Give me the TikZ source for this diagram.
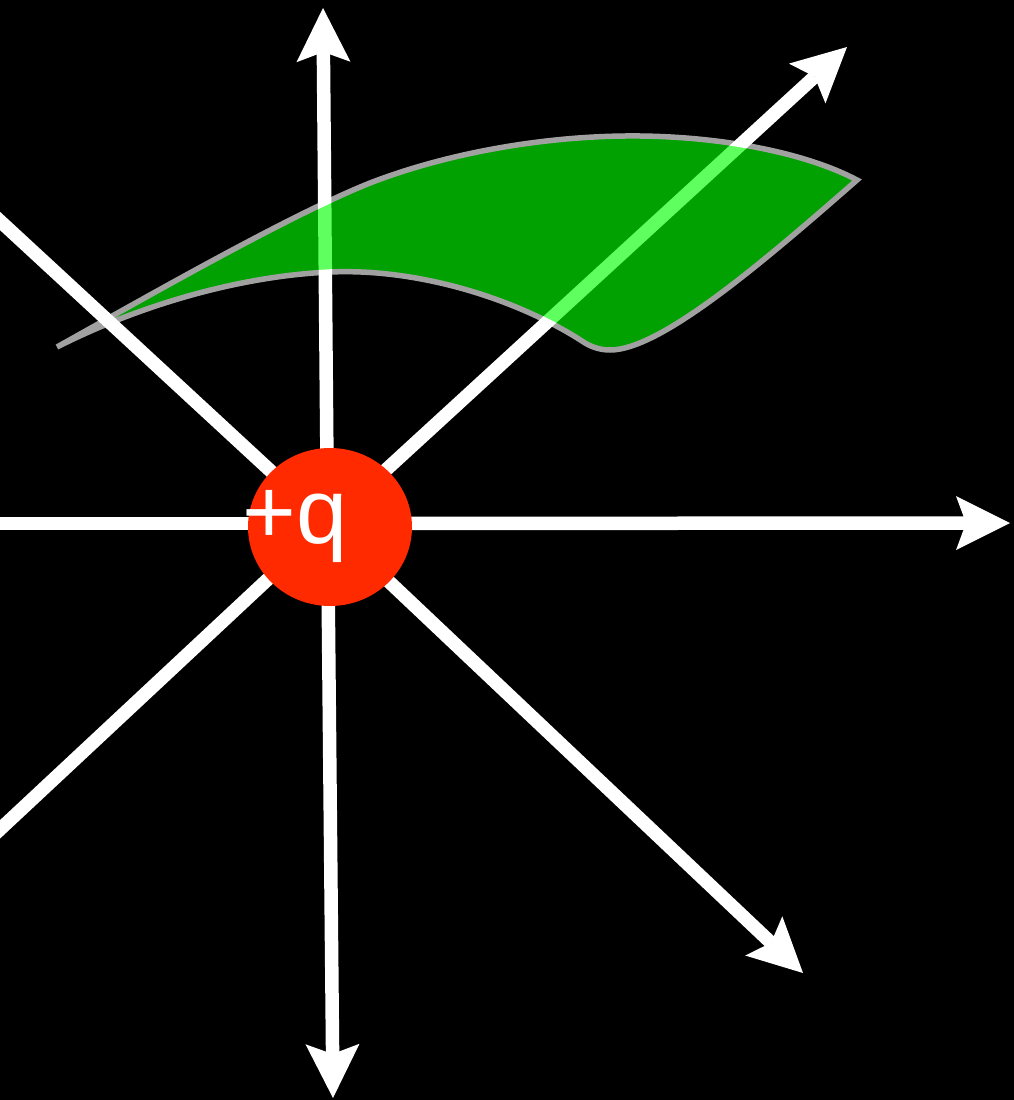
\documentclass[tikz,border=0pt]{standalone}
\usepackage{fontspec}
\setmainfont{Liberation Sans}
\usetikzlibrary{arrows.meta,shapes.geometric}
\definecolor{qred}{RGB}{255,42,0}
\definecolor{sheet}{RGB}{0,255,0}
\begin{document}
\begin{tikzpicture}[x=1pt,y=-1pt,
  fieldline/.style={draw=white, line width=13.5pt},
  fieldarrow/.style={fieldline, -{Stealth[length=54pt,width=54pt,inset=10pt,line width=0pt]}},
  charge/.style={ellipse, fill=qred, minimum width=164pt, minimum height=158pt, inner sep=0pt},
  chargelabel/.style={text=white, font=\fontsize{92}{92}\selectfont, inner sep=0pt, anchor=base},
  surface/.style={fill=sheet, draw=white, line width=5.5pt}]
\fill[black] (0,0) rectangle (1014,1100);
\useasboundingbox (0,0) rectangle (1014,1100);
\clip (0,0) rectangle (1014,1100);
% field line directions
\coordinate (O) at (327.5,523.5);
\coordinate (N) at (323,8);
\coordinate (S) at (333,1098);
\coordinate (E) at (1010,523);
\coordinate (W) at (-20,523.5);
\coordinate (NE) at (847,47);
\coordinate (SE) at (803,973);
\coordinate (NW) at (-20,202.5);
\coordinate (SW) at (-20,848);
\draw[fieldarrow] (O) -- (N);
\draw[fieldarrow] (O) -- (S);
\draw[fieldarrow] (O) -- (E);
\draw[fieldarrow] (O) -- (NE);
\draw[fieldarrow] (O) -- (SE);
\draw[fieldline] (O) -- (W);
\draw[fieldline] (O) -- (NW);
\draw[fieldline] (O) -- (SW);
% surface patch
\begin{scope}[transparency group, opacity=0.63]
\path[surface]
 (57,347) .. controls (150,295) and (290,215) .. (370,183)
 .. controls (450,152) and (550,135) .. (640,136)
 .. controls (730,137) and (810,155) .. (857,180)
 .. controls (760,265) and (660,350) .. (610,350)
 .. controls (600,350) and (592,347) .. (585,343)
 .. controls (520,300) and (420,268) .. (330,272)
 .. controls (240,276) and (140,305) .. cycle;
\end{scope}
% charge
\node[charge] (q) at (330,527) {};
\node[chargelabel] (lbl) at (295,543) {+q};
\end{tikzpicture}
\end{document}
